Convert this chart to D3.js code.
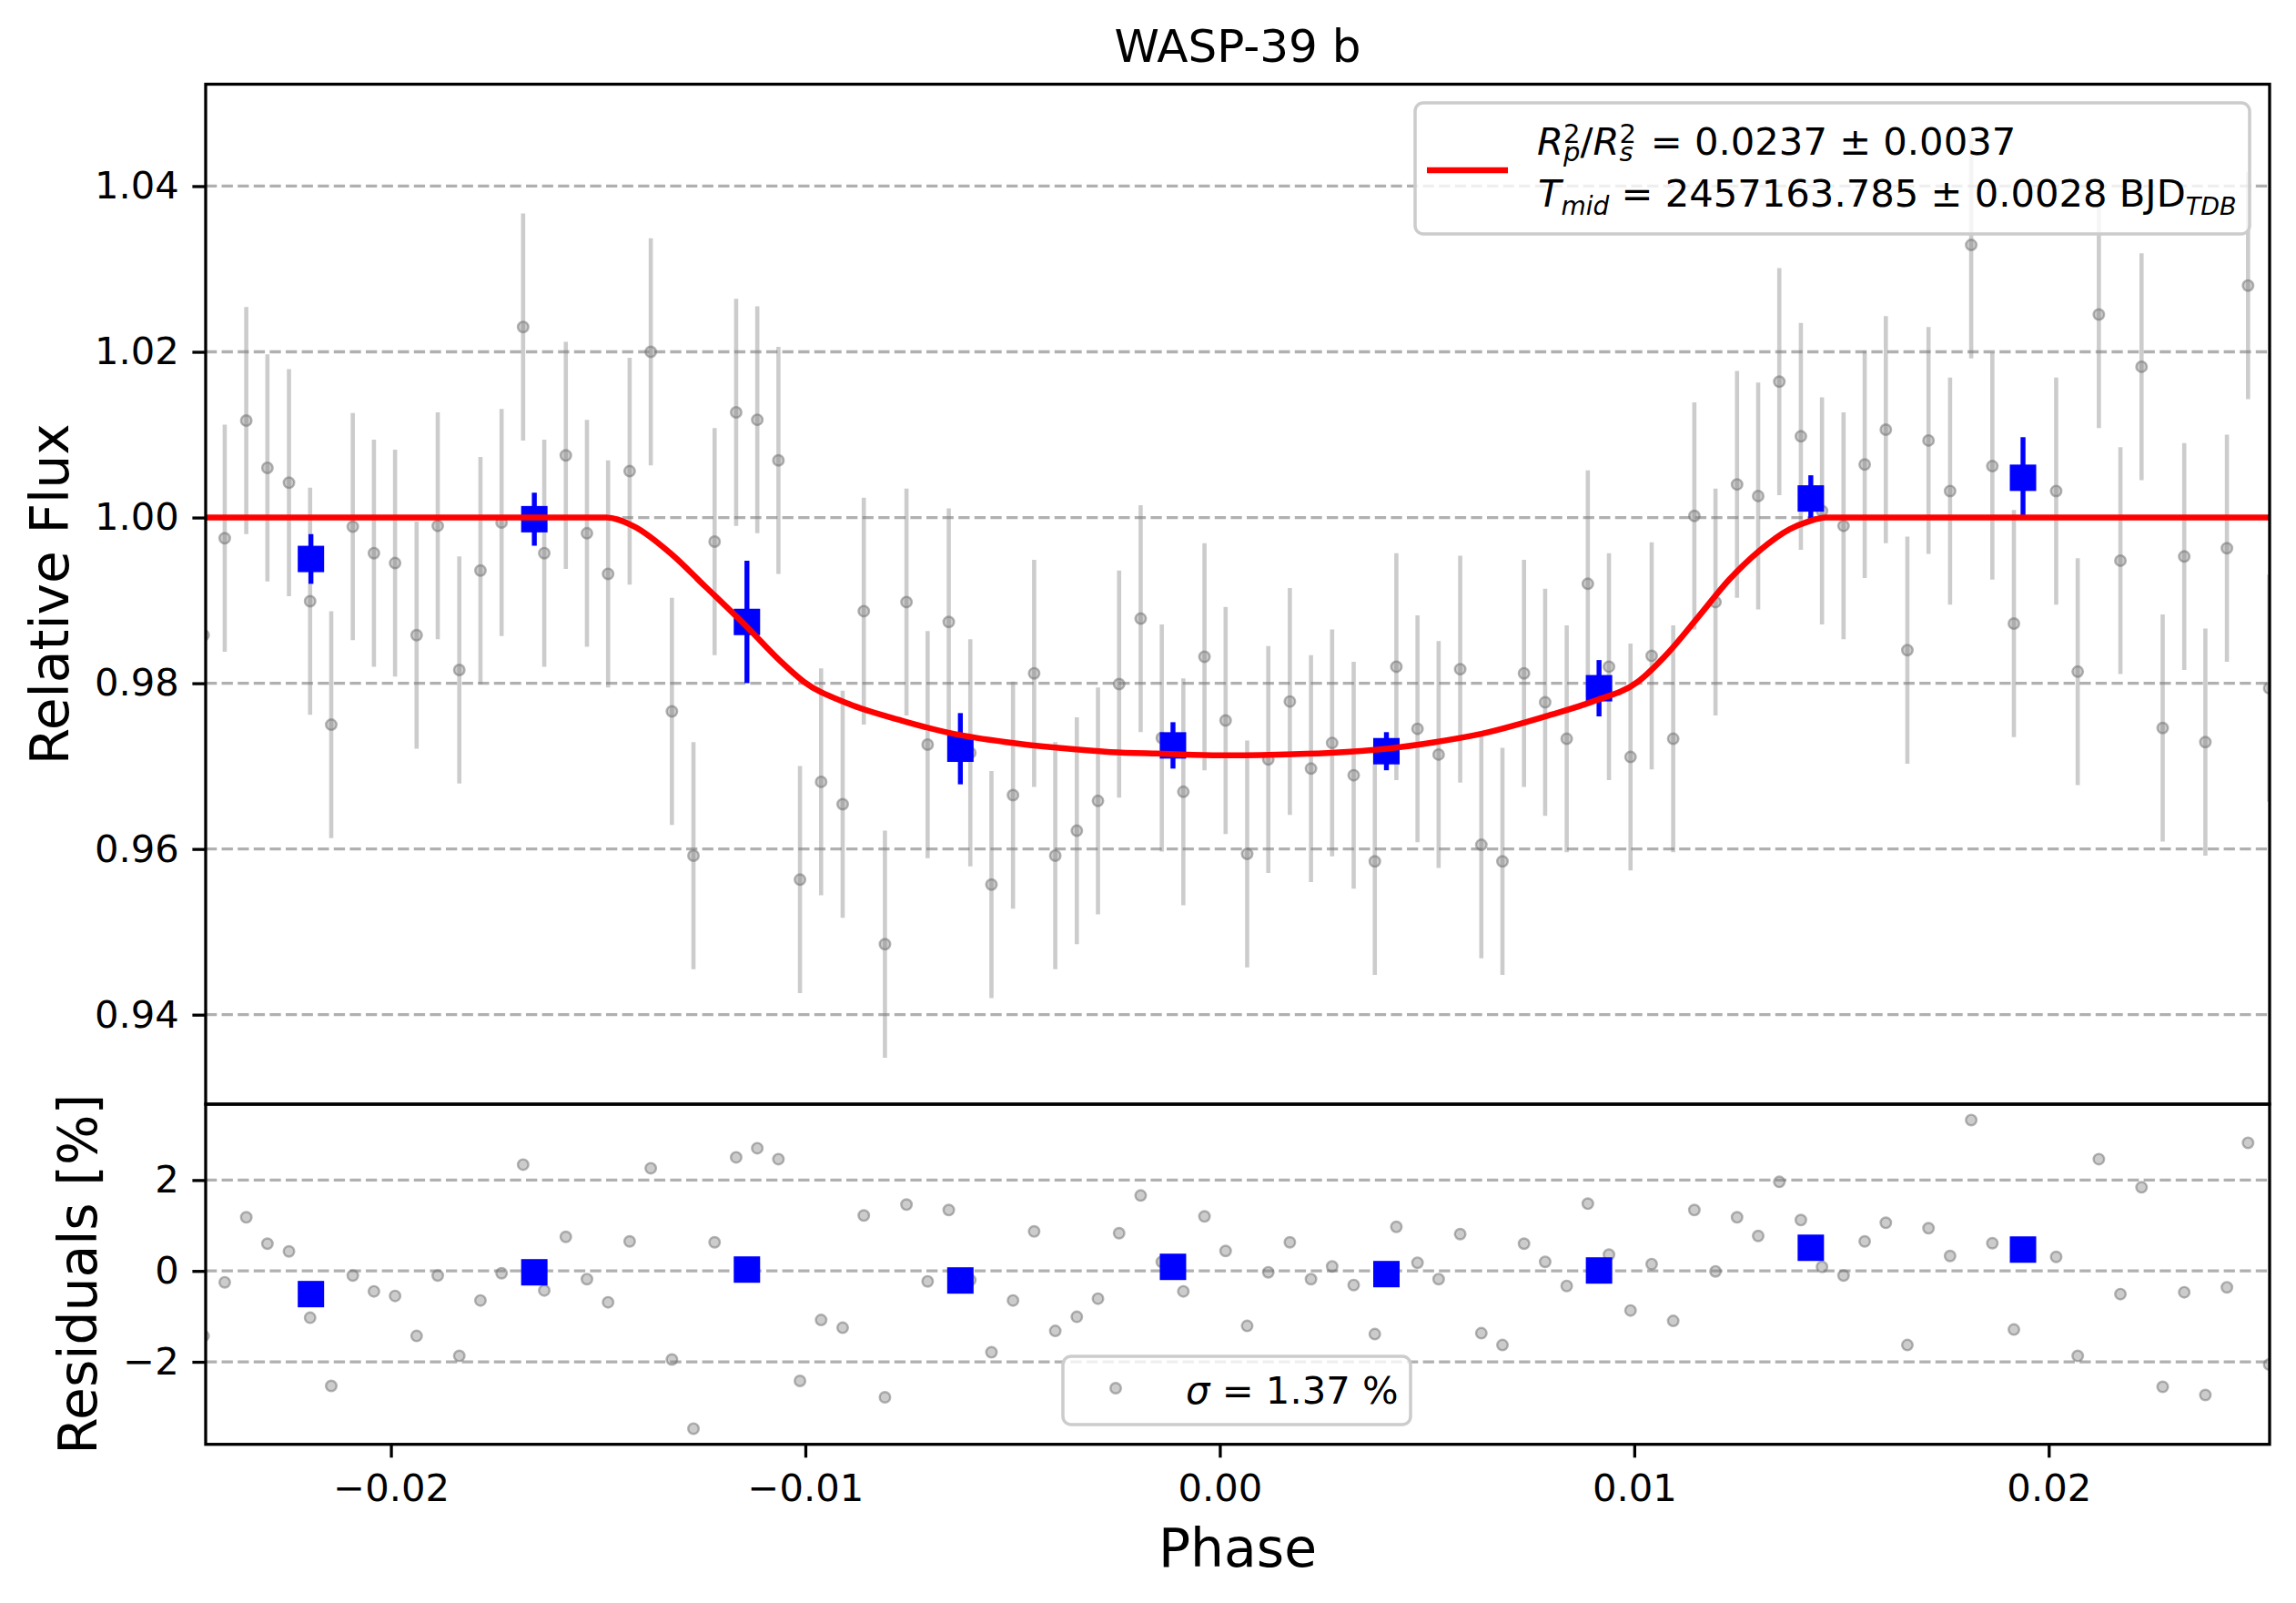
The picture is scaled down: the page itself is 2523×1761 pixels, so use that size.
<!DOCTYPE html>
<html>
<head>
<meta charset="utf-8">
<script src="https://cdn.jsdelivr.net/npm/d3@7"></script>
<style>
body { margin: 0; background: #fff; }
text { font-family: "DejaVu Sans", sans-serif; }
</style>
</head>
<body>
<svg id="chart" width="2523" height="1761"></svg>
<script>
// unbinned data (phase, relative flux, residual in %)
let phase = [
    -0.02452, -0.02401, -0.02349, -0.02298, -0.02246, -0.02195, -0.02144, -0.02092, -0.02041, -0.01990,
    -0.01938, -0.01887, -0.01835, -0.01784, -0.01733, -0.01681, -0.01630, -0.01578, -0.01527, -0.01476,
    -0.01424, -0.01373, -0.01322, -0.01270, -0.01219, -0.01167, -0.01116, -0.01065, -0.01013, -0.00962,
    -0.00910, -0.00859, -0.00808, -0.00756, -0.00705, -0.00654, -0.00602, -0.00551, -0.00499, -0.00448,
    -0.00397, -0.00345, -0.00294, -0.00243, -0.00191, -0.00140, -0.00088, -0.00037, 0.00014, 0.00066,
    0.00117, 0.00169, 0.00220, 0.00271, 0.00323, 0.00374, 0.00426, 0.00477, 0.00528, 0.00580,
    0.00631, 0.00682, 0.00734, 0.00785, 0.00837, 0.00888, 0.00939, 0.00991, 0.01042, 0.01094,
    0.01145, 0.01196, 0.01248, 0.01299, 0.01350, 0.01402, 0.01453, 0.01505, 0.01556, 0.01607,
    0.01659, 0.01710, 0.01762, 0.01813, 0.01864, 0.01916, 0.02018, 0.02070, 0.02121, 0.02173,
    0.02224, 0.02275, 0.02327, 0.02378, 0.02430, 0.02481, 0.02532
];
let flux = [
    0.9858, 0.9975, 1.0117, 1.0060, 1.0042, 0.9899, 0.9750, 0.9989, 0.9957, 0.9945,
    0.9858, 0.9990, 0.9816, 0.9936, 0.9994, 1.0230, 0.9957, 1.0075, 0.9981, 0.9932,
    1.0056, 1.0200, 0.9766, 0.9592, 0.9971, 1.0127, 1.0118, 1.0069, 0.9563, 0.9681,
    0.9654, 0.9887, 0.9485, 0.9898, 0.9726, 0.9874, 0.9716, 0.9557, 0.9665, 0.9812,
    0.9592, 0.9622, 0.9658, 0.9799, 0.9878, 0.9734, 0.9669, 0.9832, 0.9755, 0.9594,
    0.9708, 0.9778, 0.9697, 0.9728, 0.9689, 0.9585, 0.9820, 0.9745, 0.9714, 0.9817,
    0.9605, 0.9585, 0.9812, 0.9777, 0.9733, 0.9920, 0.9820, 0.9711, 0.9833, 0.9733,
    1.0002, 0.9898, 1.0040, 1.0026, 1.0164, 1.0098, 1.0008, 0.9990, 1.0064, 1.0106,
    0.9840, 1.0093, 1.0032, 1.0329, 1.0062, 0.9872, 1.0032, 0.9814, 1.0245, 0.9948,
    1.0182, 0.9746, 0.9953, 0.9729, 0.9963, 1.0280, 0.9794
];
let residual = [
    -1.43, -0.25, 1.18, 0.60, 0.43, -1.03, -2.53, -0.10, -0.45, -0.55,
    -1.43, -0.10, -1.87, -0.65, -0.05, 2.34, -0.43, 0.75, -0.18, -0.69,
    0.65, 2.26, -1.95, -3.47, 0.63, 2.50, 2.70, 2.46, -2.42, -1.08,
    -1.25, 1.22, -2.78, 1.46, -0.23, 1.34, -0.20, -1.79, -0.65, 0.87,
    -1.32, -1.01, -0.61, 0.83, 1.66, 0.20, -0.45, 1.20, 0.44, -1.21,
    -0.03, 0.63, -0.18, 0.10, -0.31, -1.39, 0.97, 0.18, -0.18, 0.81,
    -1.37, -1.63, 0.60, 0.20, -0.33, 1.48, 0.36, -0.87, 0.15, -1.10,
    1.34, -0.01, 1.18, 0.77, 1.96, 1.12, 0.09, -0.10, 0.65, 1.06,
    -1.63, 0.94, 0.33, 3.32, 0.61, -1.29, 0.31, -1.87, 2.46, -0.51,
    1.84, -2.55, -0.47, -2.73, -0.36, 2.82, -2.06
];
let fluxErr = 0.0137;

// binned points
let binPhase = [-0.02193, -0.01654, -0.01141, -0.00626, -0.00113, 0.00402, 0.00915, 0.01426, 0.01938];
let binFlux = [0.9950, 0.9998, 0.9874, 0.9721, 0.9725, 0.9718, 0.9794, 1.0023, 1.0048];
let binErr = [0.0030, 0.0032, 0.0074, 0.0043, 0.0028, 0.0023, 0.0034, 0.0028, 0.0049];
let binResidual = [-0.51, -0.03, 0.03, -0.21, 0.09, -0.07, 0.01, 0.51, 0.47];

// transit model, sampled off the red curve
let modelPhase = [-0.02452, -0.01480, -0.01412, -0.01328, -0.01240, -0.01141, -0.01063, -0.01004,
    -0.00895, -0.00768, -0.00642, -0.00516, -0.00390, -0.00264, -0.00138, 0.00000, 0.00140, 0.00270,
    0.00402, 0.00520, 0.00631, 0.00799, 0.00900, 0.01009, 0.01082, 0.01156, 0.01229, 0.01302,
    0.01375, 0.01419, 0.01463, 0.02532];
let modelFlux = [1.0000, 1.0000, 0.9989, 0.9958, 0.9916, 0.9868, 0.9828, 0.9802,
    0.9775, 0.9755, 0.9739, 0.9729, 0.9722, 0.9717, 0.9715, 0.9713, 0.9714, 0.9716,
    0.9721, 0.9729, 0.9739, 0.9762, 0.9778, 0.9802, 0.9837, 0.9881, 0.9925, 0.9960,
    0.9986, 0.9995, 1.0000, 1.0000];

// ticks
let phaseTicks = [-0.02, -0.01, 0.00, 0.01, 0.02];
let fluxTicks = [0.94, 0.96, 0.98, 1.00, 1.02, 1.04];
let residualTicks = [-2, 0, 2];

let svg = d3.select("#chart");
let plotLeft = 226, plotRight = 2494, plotTop = 92.5, plotMid = 1213, plotBottom = 1586.7;
let grayFill = "rgba(128,128,128,0.4)";
let grayEdge = "rgba(110,110,110,0.5)";

let x = d3.scaleLinear().domain([-0.02447, 0.02533]).range([plotLeft, plotRight]);
let yFlux = d3.scaleLinear().domain([0.9292, 1.0523]).range([plotMid, plotTop]);
let yRes = d3.scaleLinear().domain([-3.816, 3.67]).range([plotBottom, plotMid]);

svg.append("rect").attr("width", 2523).attr("height", 1761).attr("fill", "white");

let defs = svg.append("defs");
defs.append("clipPath").attr("id", "clipMain").append("rect")
    .attr("x", plotLeft).attr("y", plotTop)
    .attr("width", plotRight - plotLeft).attr("height", plotMid - plotTop);
defs.append("clipPath").attr("id", "clipRes").append("rect")
    .attr("x", plotLeft).attr("y", plotMid)
    .attr("width", plotRight - plotLeft).attr("height", plotBottom - plotMid);

// horizontal dashed grid
function drawGrid(scale, ticks) {
    svg.append("g").selectAll("line")
        .data(ticks)
        .enter()
        .append("line")
        .attr("x1", plotLeft).attr("x2", plotRight)
        .attr("y1", d => scale(d)).attr("y2", d => scale(d))
        .attr("stroke", "#b0b0b0")
        .attr("stroke-width", 3.3)
        .attr("stroke-dasharray", "12.3,5.3");
}
drawGrid(yFlux, fluxTicks);
drawGrid(yRes, residualTicks);

let points = phase.map((p, i) => ({p: p, f: flux[i], r: residual[i]}));
let bins = binPhase.map((p, i) => ({p: p, f: binFlux[i], e: binErr[i], r: binResidual[i]}));

function grayMarkers(g, yScale, key) {
    g.append("g").selectAll("circle")
        .data(points)
        .enter()
        .append("circle")
        .attr("cx", d => x(d.p)).attr("cy", d => yScale(d[key]))
        .attr("r", 5.8)
        .attr("fill", grayFill)
        .attr("stroke", grayEdge)
        .attr("stroke-width", 2.4);
}

// main panel
let main = svg.append("g").attr("clip-path", "url(#clipMain)");

main.append("g").selectAll("line")
    .data(points)
    .enter()
    .append("line")
    .attr("x1", d => x(d.p)).attr("x2", d => x(d.p))
    .attr("y1", d => yFlux(d.f - fluxErr)).attr("y2", d => yFlux(d.f + fluxErr))
    .attr("stroke", grayFill)
    .attr("stroke-width", 4.6);

grayMarkers(main, yFlux, "f");

main.append("g").selectAll("line")
    .data(bins)
    .enter()
    .append("line")
    .attr("x1", d => x(d.p)).attr("x2", d => x(d.p))
    .attr("y1", d => yFlux(d.f - d.e)).attr("y2", d => yFlux(d.f + d.e))
    .attr("stroke", "#0000ff")
    .attr("stroke-width", 5.4);

main.append("g").selectAll("rect")
    .data(bins)
    .enter()
    .append("rect")
    .attr("x", d => x(d.p) - 14.5).attr("y", d => yFlux(d.f) - 14.5)
    .attr("width", 29).attr("height", 29)
    .attr("fill", "#0000ff");

let modelLine = d3.line()
    .x(d => x(d[0]))
    .y(d => yFlux(d[1]))
    .curve(d3.curveMonotoneX);

main.append("path")
    .datum(modelPhase.map((p, i) => [p, modelFlux[i]]))
    .attr("d", modelLine)
    .attr("fill", "none")
    .attr("stroke", "#ff0000")
    .attr("stroke-width", 6.5);

// residual panel
let res = svg.append("g").attr("clip-path", "url(#clipRes)");

grayMarkers(res, yRes, "r");

res.append("g").selectAll("rect")
    .data(bins)
    .enter()
    .append("rect")
    .attr("x", d => x(d.p) - 14.5).attr("y", d => yRes(d.r) - 14.5)
    .attr("width", 29).attr("height", 29)
    .attr("fill", "#0000ff");

// axes
function styleAxis(g) {
    g.select(".domain").remove();
    g.selectAll(".tick line").attr("stroke", "black").attr("stroke-width", 3.3);
    g.selectAll(".tick text").attr("font-size", 41.7).attr("fill", "black")
        .attr("font-family", "DejaVu Sans");
}

svg.append("g")
    .attr("transform", "translate(" + plotLeft + ",0)")
    .call(d3.axisLeft(yFlux).tickValues(fluxTicks).tickFormat(d3.format(".2f"))
        .tickSize(14.6).tickPadding(14.6))
    .call(styleAxis);

svg.append("g")
    .attr("transform", "translate(" + plotLeft + ",0)")
    .call(d3.axisLeft(yRes).tickValues(residualTicks).tickFormat(d3.format("d"))
        .tickSize(14.6).tickPadding(14.6))
    .call(styleAxis);

svg.append("g")
    .attr("transform", "translate(0," + plotBottom + ")")
    .call(d3.axisBottom(x).tickValues(phaseTicks).tickFormat(d3.format(".2f"))
        .tickSize(14.6).tickPadding(14.6))
    .call(styleAxis)
    .selectAll(".tick text").attr("dy", "0.8em");

// frames
svg.append("rect")
    .attr("x", plotLeft).attr("y", plotTop)
    .attr("width", plotRight - plotLeft).attr("height", plotMid - plotTop)
    .attr("fill", "none").attr("stroke", "black").attr("stroke-width", 3.3);
svg.append("rect")
    .attr("x", plotLeft).attr("y", plotMid)
    .attr("width", plotRight - plotLeft).attr("height", plotBottom - plotMid)
    .attr("fill", "none").attr("stroke", "black").attr("stroke-width", 3.3);

// fit legend
let leg = svg.append("g");
leg.append("rect")
    .attr("x", 1555).attr("y", 113).attr("width", 917).attr("height", 144).attr("rx", 9)
    .attr("fill", "white").attr("fill-opacity", 0.8)
    .attr("stroke", "#cccccc").attr("stroke-width", 3.5);
leg.append("line")
    .attr("x1", 1568).attr("x2", 1657).attr("y1", 187).attr("y2", 187)
    .attr("stroke", "#ff0000").attr("stroke-width", 6.5);

let t1 = leg.append("text").attr("x", 1689).attr("y", 170).attr("font-size", 41.7);
t1.append("tspan").attr("font-style", "italic").text("R");
t1.append("tspan").attr("font-size", 29).attr("dy", -13).text("2");
t1.append("tspan").attr("font-size", 29).attr("font-style", "italic").attr("dx", -18.4).attr("dy", 20).text("p");
t1.append("tspan").attr("dy", -7).text("/");
t1.append("tspan").attr("font-style", "italic").text("R");
t1.append("tspan").attr("font-size", 29).attr("dy", -13).text("2");
t1.append("tspan").attr("font-size", 29).attr("font-style", "italic").attr("dx", -18.4).attr("dy", 20).text("s");
t1.append("tspan").attr("dy", -7).attr("dx", 6).text(" = 0.0237 \u00b1 0.0037");

let t2 = leg.append("text").attr("x", 1690).attr("y", 227).attr("font-size", 41.7);
t2.append("tspan").attr("font-style", "italic").text("T");
t2.append("tspan").attr("font-size", 28).attr("font-style", "italic").attr("dy", 9).text("mid");
t2.append("tspan").attr("dy", -9).text(" = 2457163.785 \u00b1 0.0028 BJD");
t2.append("tspan").attr("font-size", 27).attr("font-style", "italic").attr("dy", 9).text("TDB");

// residual legend
let leg2 = svg.append("g");
leg2.append("rect")
    .attr("x", 1168).attr("y", 1490).attr("width", 382).attr("height", 75).attr("rx", 9)
    .attr("fill", "white").attr("fill-opacity", 0.8)
    .attr("stroke", "#cccccc").attr("stroke-width", 3.5);
leg2.append("circle")
    .attr("cx", 1226).attr("cy", 1525).attr("r", 5.8)
    .attr("fill", grayFill).attr("stroke", grayEdge).attr("stroke-width", 2.4);
let t3 = leg2.append("text").attr("x", 1303).attr("y", 1542).attr("font-size", 41.7);
t3.append("tspan").attr("font-style", "italic").text("\u03c3");
t3.append("tspan").text(" = 1.37 %");

// title and axis labels
svg.append("text")
    .attr("x", (plotLeft + plotRight) / 2).attr("y", 68)
    .attr("text-anchor", "middle").attr("font-size", 50)
    .text("WASP-39 b");

svg.append("text")
    .attr("x", (plotLeft + plotRight) / 2).attr("y", 1721)
    .attr("text-anchor", "middle").attr("font-size", 58.3)
    .text("Phase");

svg.append("text")
    .attr("transform", "translate(75," + (plotTop + plotMid) / 2 + ") rotate(-90)")
    .attr("text-anchor", "middle").attr("font-size", 58.3)
    .text("Relative Flux");

svg.append("text")
    .attr("transform", "translate(106," + (plotMid + plotBottom) / 2 + ") rotate(-90)")
    .attr("text-anchor", "middle").attr("font-size", 58.3)
    .text("Residuals [%]");
</script>
</body>
</html>
